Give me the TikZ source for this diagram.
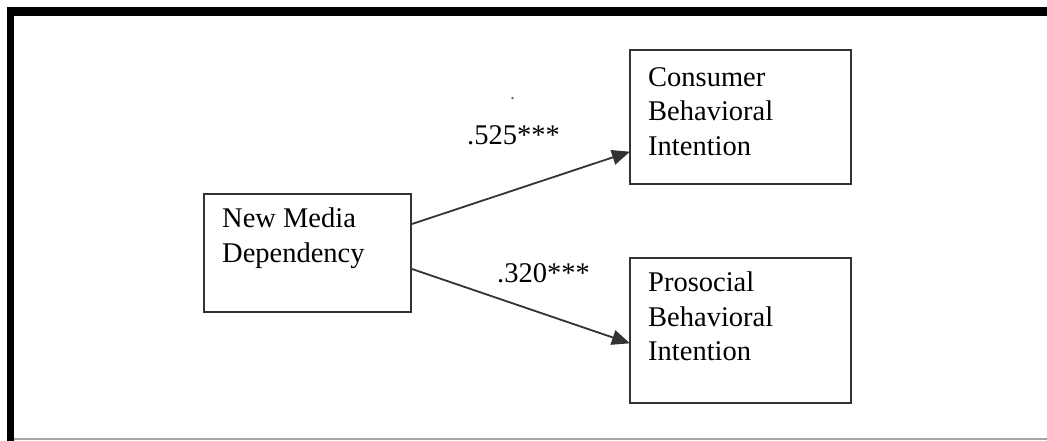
\documentclass[tikz,border=0pt]{standalone}
\usepackage{fontspec}
\setmainfont{Liberation Serif}
\usetikzlibrary{arrows.meta,calc}
\definecolor{edge}{HTML}{333333}
\tikzset{
  varbox/.style={draw=edge, line width=2pt, inner sep=0pt, anchor=north west},
  boxtext/.style={anchor=north west, inner sep=0pt, align=left, text=black,
    font=\fontsize{28.5}{34.5}\selectfont},
  coef/.style={anchor=base west, inner sep=0pt, text=black,
    font=\fontsize{28.5}{34.5}\selectfont},
  path/.style={draw=edge, line width=1.8pt,
    -{Triangle[length=18pt,width=15pt]}, shorten >=-1pt}
}
\begin{document}
\begin{tikzpicture}[x=1pt,y=-1pt]
\useasboundingbox (0,0) rectangle (1047,441);
\fill[white] (0,0) rectangle (1047,441);
% page frame
\fill[black] (7,7) rectangle (1047,16);
\fill[black] (7,7) rectangle (14,441);
\draw[black!35, line width=1.5pt] (14,439) -- (1047,439);

% variables
\node[varbox, minimum width=207pt, minimum height=118pt] (nmd) at (203,193) {};
\node[boxtext] (nmdtext) at (222,208) {New Media\\Dependency};

\node[varbox, minimum width=221pt, minimum height=134pt] (cbi) at (629,49) {};
\node[boxtext] (cbitext) at (648,67) {Consumer\\Behavioral\\Intention};

\node[varbox, minimum width=221pt, minimum height=145pt] (pbi) at (629,257) {};
\node[boxtext] (pbitext) at (648,272) {Prosocial\\Behavioral\\Intention};

% paths
\draw[path] ([yshift=29pt]nmd.east) -- ([yshift=-35pt]cbi.west);
\draw[path] ([yshift=-16pt]nmd.east) -- ([yshift=-12.5pt]pbi.west);

% coefficients
\node[coef] (c1) at (467,145) {.525***};
\node[coef] (c2) at (497,282) {.320***};
\node[coef, text=black!60, font=\fontsize{20}{22}\selectfont] (dot) at (510,100) {.};
\end{tikzpicture}
\end{document}
